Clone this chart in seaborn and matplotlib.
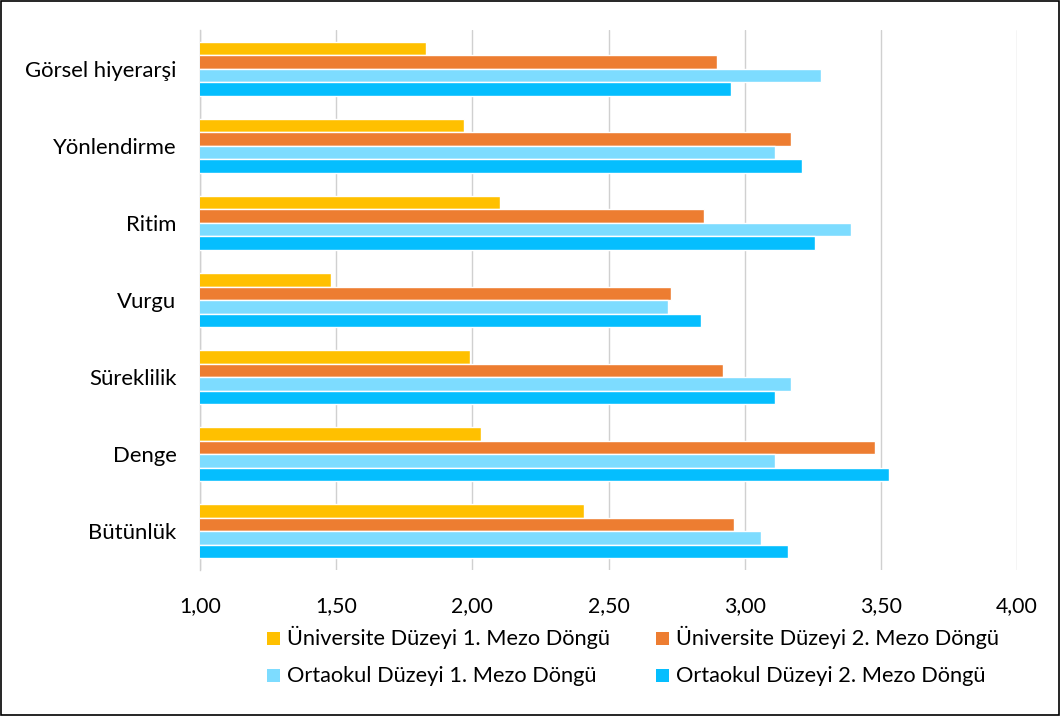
import matplotlib
matplotlib.use("Agg")
import matplotlib.pyplot as plt
import matplotlib.patches as mpatches
import seaborn as sns
import pandas as pd

categories = ["Görsel hiyerarşi", "Yönlendirme", "Ritim", "Vurgu",
              "Süreklilik", "Denge", "Bütünlük"]
series_names = ["Üniversite Düzeyi 1. Mezo Döngü",
                "Üniversite Düzeyi 2. Mezo Döngü",
                "Ortaokul Düzeyi 1. Mezo Döngü",
                "Ortaokul Düzeyi 2. Mezo Döngü"]
uni_1 = [1.83, 1.97, 2.10, 1.48, 1.99, 2.03, 2.41]
uni_2 = [2.90, 3.17, 2.85, 2.73, 2.92, 3.48, 2.96]
orta_1 = [3.28, 3.11, 3.39, 2.72, 3.17, 3.11, 3.06]
orta_2 = [2.95, 3.21, 3.26, 2.84, 3.11, 3.53, 3.16]
x_ticks = [1.0, 1.5, 2.0, 2.5, 3.0, 3.5, 4.0]
colors = ["#FFC000", "#ED7D31", "#7DDCFF", "#05BEFE"]

rows = []
for name, vals in zip(series_names, [uni_1, uni_2, orta_1, orta_2]):
    for cat, v in zip(categories, vals):
        rows.append({"Kategori": cat, "Seri": name, "Değer": v})
df = pd.DataFrame(rows)

sns.set_theme(style="white")
plt.rcParams["font.family"] = ["Lato", "DejaVu Sans"]

W, H = 1060, 716
fig = plt.figure(figsize=(W / 100, H / 100), dpi=100)
renderer = fig.canvas.get_renderer()


def size_for_width(text, width_px, base=14.0):
    """Font size (pt) at which `text` spans `width_px` pixels."""
    t = fig.text(0, 0, text, fontsize=base)
    w = t.get_window_extent(renderer).width
    t.remove()
    return base * width_px / w


ylab_size = size_for_width("Görsel hiyerarşi", 152)
tick_size = size_for_width("1,00", 42)
leg_size = size_for_width(series_names[0], 324)

ax = fig.add_axes([200 / W, 1 - 570 / H, 817 / W, 540 / H])

sns.barplot(data=df, y="Kategori", x="Değer", hue="Seri", order=categories,
            hue_order=series_names, palette=colors, orient="h",
            width=0.70, saturation=1, ax=ax, legend=False, zorder=3)

ax.set_xlim(1.0, 4.0)
ax.set_xticks(x_ticks)
ax.set_xticklabels([f"{t:.2f}".replace(".", ",") for t in x_ticks],
                   fontsize=tick_size, color="#000000")
ax.tick_params(axis="y", labelsize=ylab_size, labelcolor="#000000", pad=17, length=0)
ax.tick_params(axis="x", pad=19, length=0)
ax.set_xlabel("")
ax.set_ylabel("")
ax.grid(axis="x", color="#D0D0D0", linewidth=1.0, zorder=0)
ax.set_axisbelow(True)
for side in ["top", "right", "bottom"]:
    ax.spines[side].set_visible(False)
ax.spines["left"].set_color("#D0D0D0")
ax.spines["left"].set_linewidth(1.0)

# legend: two rows, two columns, square swatches
leg_cols = [267, 656]
leg_baselines = [645, 682]
sw = 13
for i, (name, col) in enumerate(zip(series_names, colors)):
    r, c = divmod(i, 2)
    x0, yb = leg_cols[c], leg_baselines[r]
    fig.patches.append(mpatches.Rectangle((x0 / W, 1 - yb / H), sw / W, sw / H,
                                          transform=fig.transFigure,
                                          facecolor=col, edgecolor="none"))
    fig.text((x0 + sw + 7) / W, 1 - yb / H, name, fontsize=leg_size,
             color="#000000", ha="left", va="baseline")

fig.patches.append(mpatches.Rectangle((0.0008, 0.001), 0.9984, 0.998,
                                      transform=fig.transFigure, fill=False,
                                      edgecolor="#000000", linewidth=1.2))

fig.savefig("out.png", dpi=100)
